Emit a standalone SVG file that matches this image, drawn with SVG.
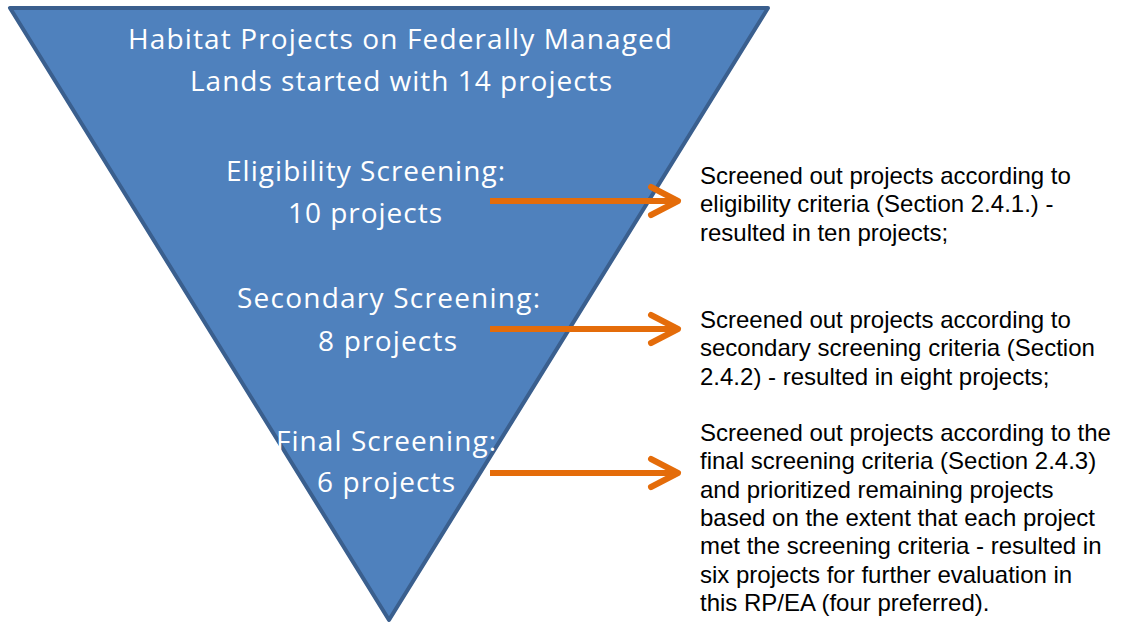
<svg xmlns="http://www.w3.org/2000/svg" width="1128" height="625" viewBox="0 0 1128 625">
<style>
.tri{fill:#4F81BD;stroke:#3A5F8E;stroke-width:4;stroke-linejoin:round}
.lt{font-family:"Open Sans","Noto Sans","Liberation Sans",sans-serif;font-size:28px;fill:#FFFFFF;text-anchor:middle}
.rt{font-family:"Liberation Sans",Arial,sans-serif;font-size:24px;fill:#000000}
.arr{fill:none;stroke:#E46C0A;stroke-width:6;stroke-linecap:round;stroke-linejoin:round}
</style>
<rect width="1128" height="625" fill="#FFFFFF"/>
<g id="funnel">
<polygon class="tri" points="10,8 768,8 389,620"/>
<text class="lt" x="400" y="49" textLength="544" lengthAdjust="spacing">Habitat Projects on Federally Managed</text>
<text class="lt" x="401" y="91" textLength="422" lengthAdjust="spacing">Lands started with 14 projects</text>
</g>
<g id="eligibility">
<text class="lt" x="365.5" y="181" textLength="279" lengthAdjust="spacing">Eligibility Screening:</text>
<text class="lt" x="365" y="222.5" textLength="154" lengthAdjust="spacing">10 projects</text>
</g>
<g id="secondary">
<text class="lt" x="388.5" y="307.5" textLength="303" lengthAdjust="spacing">Secondary Screening:</text>
<text class="lt" x="387.5" y="350.5" textLength="139" lengthAdjust="spacing">8 projects</text>
</g>
<g id="final">
<text class="lt" x="386" y="450.5" textLength="220" lengthAdjust="spacing">Final Screening:</text>
<text class="lt" x="386" y="491.5" textLength="138" lengthAdjust="spacing">6 projects</text>
</g>
<g id="note1">
<text class="rt" x="700" y="184">Screened out projects according to</text>
<text class="rt" x="700" y="212">eligibility criteria (Section 2.4.1.) -</text>
<text class="rt" x="700" y="241">resulted in ten projects;</text>
</g>
<g id="note2">
<text class="rt" x="700" y="328">Screened out projects according to</text>
<text class="rt" x="700" y="356">secondary screening criteria (Section</text>
<text class="rt" x="700" y="385">2.4.2) - resulted in eight projects;</text>
</g>
<g id="note3">
<text class="rt" x="700" y="441">Screened out projects according to the</text>
<text class="rt" x="700" y="469">final screening criteria (Section 2.4.3)</text>
<text class="rt" x="700" y="498">and prioritized remaining projects</text>
<text class="rt" x="700" y="526">based on the extent that each project</text>
<text class="rt" x="700" y="554">met the screening criteria - resulted in</text>
<text class="rt" x="700" y="583">six projects for further evaluation in</text>
<text class="rt" x="700" y="611">this RP/EA (four preferred).</text>
</g>
<g id="connectors">
<line class="arr" x1="490" y1="201" x2="676" y2="201" style="stroke-linecap:butt"/>
<polyline class="arr" points="651,187 678,201 651,215"/>
<line class="arr" x1="490" y1="329" x2="676" y2="329" style="stroke-linecap:butt"/>
<polyline class="arr" points="651,315 678,329 651,343"/>
<line class="arr" x1="490" y1="473" x2="676" y2="473" style="stroke-linecap:butt"/>
<polyline class="arr" points="651,459 678,473 651,487"/>
</g>
</svg>
